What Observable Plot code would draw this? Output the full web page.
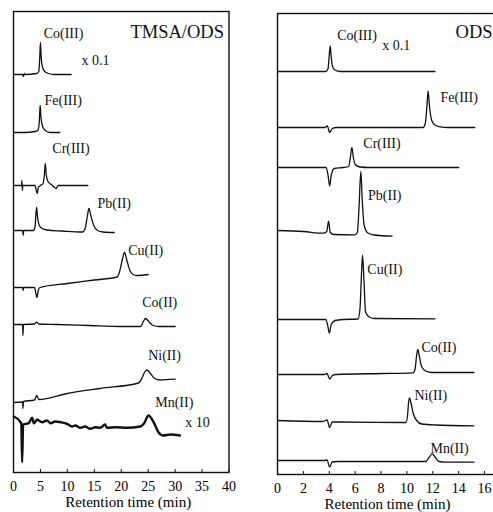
<!DOCTYPE html>
<html><head><meta charset="utf-8">
<script src="https://cdn.jsdelivr.net/npm/d3@7"></script>
<script src="https://cdn.jsdelivr.net/npm/@observablehq/plot@0.6"></script>
<style>
html,body{margin:0;padding:0;background:#fff;overflow:hidden;width:493px;height:512px}
#wrap{position:relative;width:493px;height:512px;overflow:hidden}
#left,#right{position:absolute;top:0}
#left{left:0;width:245px}
#right{left:245px;width:260px}
#wrap svg{overflow:visible;max-width:none !important;font-family:"Liberation Serif",serif !important}
#wrap svg text{font-family:"Liberation Serif",serif}
</style></head>
<body><div id="wrap"><div id="left"></div><div id="right"></div></div>
<script>
// ---------- TMSA/ODS panel (time in min, signal in arbitrary units relative to each baseline) ----------
const leftTitle = "TMSA/ODS";
const leftNames = ["Co(III)", "Fe(III)", "Cr(III)", "Pb(II)", "Cu(II)", "Co(II)", "Ni(II)", "Mn(II)"];
const leftOffsets = [398, 340, 287, 242, 185, 148, 70, 46];
const leftCoIII = [[0,0],[1.7,0],[1.85,-2],[2.0,1],[2.15,0],[4.3,1],[4.7,3],[4.88,18],[5.0,32],[5.13,18],[5.4,7],[5.8,3],[6.5,1],[7.5,0],[10.7,0]];
const leftFeIII = [[0,0],[2,0],[4.0,1],[4.5,2],[4.75,8],[4.85,18],[4.95,27],[5.1,15],[5.4,6],[5.9,2],[6.8,0],[8.6,0]];
const leftCrIII = [[0,0],[1.5,0],[1.55,5],[1.65,-5],[1.72,0],[4.0,0],[4.28,-6],[4.42,-8],[4.6,-2],[5.0,0],[5.5,2],[5.75,12],[5.9,22],[6.05,12],[6.4,4],[7.0,1],[7.6,-2],[7.9,-3],[8.3,0],[13.8,0]];
const leftPbII = [[0,0],[1.7,0],[1.8,-5],[1.9,0],[3.7,0],[4.0,4],[4.18,18],[4.3,23],[4.45,14],[4.8,5],[5.3,2],[6.2,0.5],[9,-0.5],[12.8,-1.5],[13.3,2],[13.7,14],[14.0,22],[14.4,14],[14.9,5],[15.6,0],[16.6,-1.5],[18.7,-2]];
const leftCuII = [[0,0],[1.7,0],[1.8,-3],[1.9,0],[3.9,0],[4.2,-7],[4.35,-10],[4.6,-3],[4.9,0],[10,4],[15,7.5],[19.2,10.5],[19.7,16],[20.2,28],[20.6,35],[21.0,28],[21.6,17],[22.2,13],[22.9,12],[25,13]];
const leftCoII = [[0,0],[1.7,0],[1.75,-11],[1.85,0],[3.9,0.5],[4.3,2.3],[4.7,0.5],[8,0],[14,-1],[20,-2],[23.6,-2],[24.1,3],[24.5,6],[25.1,3],[25.9,-1],[27,-2],[30,-2]];
const leftNiII = [[0,0],[1.7,0.5],[1.75,-6],[1.85,1],[3.9,2.5],[4.3,7],[4.7,3],[10,9],[16,14],[23.2,19.5],[23.8,24],[24.3,30],[24.8,32.5],[25.4,29],[26.2,24],[27.2,22.5],[30,23.3]];
const leftMnII = [[0.06,10],[1.3,4.3],[1.45,2.7],[1.6,-35.7],[1.79,2],[2.84,3.3],[3.46,8.7],[3.77,3.3],[4.38,6.7],[5.3,4.3],[6.23,6],[6.85,3.3],[7.78,5],[8.7,4.3],[9.94,2.7],[10.86,0],[11.5,1],[12.4,-1.3],[13.3,0],[14.26,-2.3],[15.2,-0.7],[16.1,-1.3],[17.0,2],[17.35,-1.3],[18.9,-0.7],[21.05,-1.3],[23.5,0],[24.26,3.3],[25.06,11],[26.0,4.3],[26.9,-5.7],[27.8,-9],[29.1,-8],[30.9,-9]];
const leftTraces = [leftCoIII, leftFeIII, leftCrIII, leftPbII, leftCuII, leftCoII, leftNiII, leftMnII];
const leftLabelText = ["Co(III)", "x 0.1", "Fe(III)", "Cr(III)", "Pb(II)", "Cu(II)", "Co(II)", "Ni(II)", "Mn(II)", "x 10"];
const leftLabelT = [5.6, 12.6, 5.75, 7.2, 15.6, 21.3, 23.9, 25.0, 26.3, 31.9];
const leftLabelV = [439, 412, 372, 324, 269, 222, 170, 117, 70, 50];
const leftTicks = [0, 5, 10, 15, 20, 25, 30, 35, 40];

// ---------- ODS panel ----------
const rightTitle = "ODS";
const rightNames = ["Co(III)", "Fe(III)", "Cr(III)", "Pb(II)", "Cu(II)", "Co(II)", "Ni(II)", "Mn(II)"];
const rightOffsets = [403, 347, 307, 244, 155, 100, 54, 14];
const rightCoIII = [[0,0],[3.75,0],[3.91,3],[3.99,15],[4.07,25.7],[4.15,15],[4.25,5],[4.44,1.5],[4.85,0],[12.17,0]];
const rightFeIII = [[0,0],[3.65,0],[3.85,1.5],[4.03,-5],[4.23,-1],[4.55,0],[11.25,0],[11.42,4],[11.54,20],[11.64,36.7],[11.74,22],[11.92,7],[12.17,2.5],[12.58,0.7],[13.2,0],[15.25,0]];
const rightCrIII = [[0,0],[3.75,0],[3.91,-8],[4.03,-18.3],[4.15,-8],[4.39,-1],[5.05,0],[5.5,1],[5.63,10],[5.75,20],[5.86,10],[6.01,3],[6.37,0.5],[7.1,0],[14.0,0]];
const rightPbII = [[0,0],[2,-1],[3.52,-2.7],[3.81,-1],[3.94,9.3],[4.08,-2],[4.34,-4],[5.96,-4.3],[6.17,-2],[6.29,20],[6.44,59],[6.55,30],[6.7,5],[6.98,-2.5],[7.49,-4.5],[8.85,-5.7]];
const rightCuII = [[0,0],[3.73,0],[3.88,-6],[4.01,-13.7],[4.15,-5],[4.44,-1],[5.05,0],[6.22,0.5],[6.37,10],[6.49,45],[6.57,64.3],[6.68,40],[6.8,8],[7.03,3],[7.49,1],[12.17,0.7]];
const rightCoII = [[0,0],[3.62,0],[3.83,1],[4.03,-4.7],[4.23,-1],[4.54,0],[8.1,1],[10.49,1.7],[10.64,6],[10.74,18],[10.84,25],[10.95,19],[11.13,8],[11.46,3.5],[11.97,2],[15.18,2]];
const rightNiII = [[0,0],[3.52,-1],[3.83,0.5],[4.03,-7],[4.23,-1.5],[4.64,-1.5],[9.93,-2],[10.05,5],[10.13,18],[10.2,22.7],[10.29,19],[10.49,7],[10.75,0],[11.15,-3.5],[12.17,-4.5],[15.18,-5.3]];
const rightMnII = [[0,0],[3.62,0],[3.83,0.5],[4.03,-6.7],[4.23,-1.5],[4.64,-1],[11.46,-1],[11.71,3],[11.95,6.7],[12.17,3.5],[12.48,-1],[12.98,-1.7],[15.18,-1.7]];
const rightTraces = [rightCoIII, rightFeIII, rightCrIII, rightPbII, rightCuII, rightCoII, rightNiII, rightMnII];
const rightLabelText = ["Co(III)", "x 0.1", "Fe(III)", "Cr(III)", "Pb(II)", "Cu(II)", "Co(II)", "Ni(II)", "Mn(II)"];
const rightLabelT = [4.61, 8.1, 12.6, 6.63, 7.0, 6.94, 11.12, 10.58, 11.82];
const rightLabelV = [439, 429, 377, 331, 279, 205, 127, 79, 26];
const rightTicks = [0, 2, 4, 6, 8, 10, 12, 14, 16];

const xLabel = "Retention time (min)";
const FONT = "Liberation Serif, serif";

function rows(names, offsets, traces) {
  const out = [];
  traces.forEach((tr, i) => tr.forEach(([t, s]) => out.push({name: names[i], idx: i, t, v: offsets[i] + s})));
  return out;
}
function labels(text, ts, vs) { return text.map((s, i) => ({text: s, t: ts[i], v: vs[i]})); }

function panel({data, lab, ticks, title, titleT, titleV, xDomain, width, mLeft, mRight, mTop, mBottom, labelT, thickIdx}) {
  return Plot.plot({
    width, height: 512,
    marginLeft: mLeft, marginRight: mRight, marginTop: mTop, marginBottom: mBottom,
    style: {fontFamily: FONT, fontSize: "14px", color: "#000", background: "transparent"},
    x: {domain: xDomain, axis: null},
    y: {domain: [0, 461], axis: null},
    marks: [
      Plot.frame({stroke: "#111", strokeWidth: 1.4}),
      Plot.ruleX(ticks, {x: d => d, y1: 0, y2: 3, stroke: "#111", strokeWidth: 1}),
      Plot.axisX({ticks, tickSize: 0, tickPadding: 9, fontSize: 14, fontFamily: FONT, label: null, tickFormat: d => String(d)}),
      Plot.text([xLabel], {x: () => labelT, frameAnchor: "bottom", dy: 34, text: d => d, fontSize: 15, fontFamily: FONT}),
      Plot.line(data.filter(d => d.idx !== thickIdx), {x: "t", y: "v", z: "name", stroke: "#111", strokeWidth: 1.3, curve: "monotone-x"}),
      Plot.line(data.filter(d => d.idx === thickIdx), {x: "t", y: "v", z: "name", stroke: "#111", strokeWidth: 2.4, curve: "monotone-x"}),
      Plot.text(lab, {x: "t", y: "v", text: "text", textAnchor: "start", fontSize: 14, fontFamily: FONT, fill: "#111"}),
      Plot.text([title], {x: () => titleT, y: () => titleV, text: d => d, textAnchor: "start", fontSize: 18.5, fontFamily: FONT, fill: "#111"})
    ]
  });
}

document.getElementById("left").append(panel({
  data: rows(leftNames, leftOffsets, leftTraces),
  lab: labels(leftLabelText, leftLabelT, leftLabelV),
  ticks: leftTicks, title: leftTitle, titleT: 21.7, titleV: 440,
  xDomain: [0, 40], width: 245, mLeft: 13, mRight: 16.5, mTop: 11, mBottom: 40,
  labelT: 21.3, thickIdx: 7
}));
document.getElementById("right").append(panel({
  data: rows(rightNames, rightOffsets, rightTraces),
  lab: labels(rightLabelText, rightLabelT, rightLabelV),
  ticks: rightTicks, title: rightTitle, titleT: 13.76, titleV: 442,
  xDomain: [0, 17.62], width: 260, mLeft: 32, mRight: 0, mTop: 13, mBottom: 38,
  labelT: 8.5, thickIdx: -1
}));
</script>
</body></html>
